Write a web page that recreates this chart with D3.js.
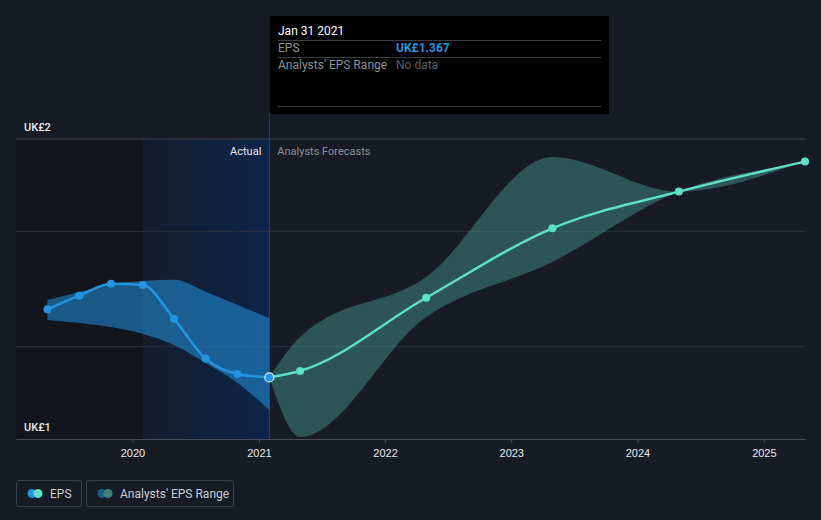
<!DOCTYPE html>
<html>
<head>
<meta charset="utf-8">
<script src="https://cdn.jsdelivr.net/npm/d3@7"></script>
<style>
  html, body { margin: 0; padding: 0; background: #161b26; }
  svg { display: block; font-family: Roboto, "Noto Sans", sans-serif; }
</style>
</head>
<body>
<div id="chart"></div>
<script>
// ---- data ----
const pastDates = ["2019-04-30", "2019-07-31", "2019-10-31", "2020-01-31", "2020-04-30", "2020-07-31", "2020-10-31", "2021-01-31"];
const pastEps   = [1.662, 1.721, 1.773, 1.767, 1.621, 1.448, 1.382, 1.367];
const pastLow   = [1.616, 1.603, 1.585, 1.555, 1.507, 1.429, 1.343, 1.226];
const pastHigh  = [1.702, 1.737, 1.772, 1.785, 1.790, 1.738, 1.681, 1.624];

const fcDates = ["2021-01-31", "2021-04-30", "2022-04-30", "2023-04-30", "2024-04-30", "2025-04-30"];
const fcEps   = [1.367, 1.395, 1.712, 2.013, 2.172, 2.302];
const fcLow   = [1.367, 1.109, 1.629, 1.867, 2.172, 2.296];
const fcHigh  = [1.367, 1.542, 1.802, 2.322, 2.172, 2.305];

const yTickValues = [1.5, 2.0];
const yLabels = ["UK£2", "UK£1"];
const xTickYears = [2020, 2021, 2022, 2023, 2024, 2025];

const tooltipDate = "Jan 31 2021";
const tooltipEps = "UK£1.367";

const W = 821, H = 520;
const margin = {top: 139, right: 16, bottom: 81, left: 16};
const parse = d3.timeParse("%Y-%m-%d");

const past = pastDates.map((d, i) => ({date: parse(d), eps: pastEps[i], low: pastLow[i], high: pastHigh[i]}));
const fc = fcDates.map((d, i) => ({date: parse(d), eps: fcEps[i], low: fcLow[i], high: fcHigh[i]}));

const x = d3.scaleTime()
    .domain([parse("2019-01-29"), parse("2025-04-30")])
    .range([margin.left, W - margin.right]);
const y = d3.scaleLinear()
    .domain([1.1, 2.4])
    .range([H - margin.bottom, margin.top]);

const svg = d3.select("#chart").append("svg")
    .attr("width", W)
    .attr("height", H);

const defs = svg.append("defs");
const grad = defs.append("linearGradient").attr("id", "lastYear")
    .attr("x1", "0").attr("x2", "1").attr("y1", "0").attr("y2", "0");
grad.append("stop").attr("offset", "0").attr("stop-color", "#00327a").attr("stop-opacity", 0.08);
grad.append("stop").attr("offset", "1").attr("stop-color", "#00327a").attr("stop-opacity", 0.42);

const today = parse("2021-01-31");
const yearAgo = parse("2020-01-31");
const plotTop = y.range()[1], plotBottom = y.range()[0];

// past background
svg.append("rect")
    .attr("x", margin.left).attr("y", plotTop)
    .attr("width", x(yearAgo) - margin.left).attr("height", plotBottom - plotTop)
    .attr("fill", "#111419").attr("opacity", 0.75);
svg.append("rect")
    .attr("x", x(yearAgo)).attr("y", plotTop)
    .attr("width", x(today) - x(yearAgo)).attr("height", plotBottom - plotTop)
    .attr("fill", "url(#lastYear)");

// gridlines
svg.append("g").selectAll("line")
    .data(yTickValues)
    .join("line")
    .attr("x1", margin.left).attr("x2", W - margin.right)
    .attr("y1", d => y(d)).attr("y2", d => y(d))
    .attr("stroke", "#2c313b").attr("stroke-width", 1);
svg.append("line")
    .attr("x1", margin.left).attr("x2", W - margin.right)
    .attr("y1", plotTop).attr("y2", plotTop)
    .attr("stroke", "#3b404b");

// vertical "today" line
svg.append("line")
    .attr("x1", x(today)).attr("x2", x(today))
    .attr("y1", 114).attr("y2", plotBottom)
    .attr("stroke", "#1a4a88").attr("stroke-width", 1);

// bands
const area = d3.area()
    .x(d => x(d.date)).y0(d => y(d.low)).y1(d => y(d.high))
    .curve(d3.curveMonotoneX);
svg.append("path").datum(past)
    .attr("d", area)
    .attr("fill", "#2394df").attr("opacity", 0.55);
svg.append("path").datum(fc)
    .attr("d", area)
    .attr("fill", "#4a9e92").attr("opacity", 0.45);

// lines
const line = d3.line().x(d => x(d.date)).y(d => y(d.eps)).curve(d3.curveMonotoneX);
svg.append("path").datum(fc)
    .attr("d", line)
    .attr("fill", "none").attr("stroke", "#5de0c6").attr("stroke-width", 2.5);
svg.append("path").datum(past)
    .attr("d", line)
    .attr("fill", "none").attr("stroke", "#2394df").attr("stroke-width", 2.5);

svg.append("g").selectAll("circle")
    .data(fc.slice(1))
    .join("circle")
    .attr("cx", d => x(d.date)).attr("cy", d => y(d.eps)).attr("r", 4)
    .attr("fill", "#5de0c6");
svg.append("g").selectAll("circle")
    .data(past.slice(0, -1))
    .join("circle")
    .attr("cx", d => x(d.date)).attr("cy", d => y(d.eps)).attr("r", 4)
    .attr("fill", "#2394df");
svg.append("circle")
    .attr("cx", x(today)).attr("cy", y(past[past.length - 1].eps)).attr("r", 4.5)
    .attr("fill", "#2394df").attr("stroke", "#e6eef8").attr("stroke-width", 1.2);

// x axis
const xAxis = d3.axisBottom(x)
    .tickValues(xTickYears.map(yr => new Date(yr, 0, 1)))
    .tickFormat(d3.timeFormat("%Y"))
    .tickSize(4).tickSizeOuter(0);
const xg = svg.append("g")
    .attr("transform", "translate(0," + plotBottom + ")")
    .call(xAxis);
xg.select(".domain").attr("stroke", "#474c57");
xg.selectAll(".tick line").attr("stroke", "#474c57");
xg.selectAll(".tick text")
    .attr("fill", "#e8eaed").attr("font-size", 11).attr("font-weight", 500)
    .attr("dy", "1em");

// y labels
svg.selectAll(".ylab")
    .data(yLabels)
    .join("text")
    .attr("class", "ylab")
    .attr("x", 24)
    .attr("y", (d, i) => i === 0 ? plotTop - 8 : plotBottom - 8)
    .attr("fill", "#e8eaed").attr("font-size", 11).attr("font-weight", 500)
    .text(d => d);

// region labels
svg.append("text")
    .attr("x", x(today) - 8).attr("y", 155)
    .attr("text-anchor", "end")
    .attr("fill", "#e8eaed").attr("font-size", 11)
    .text("Actual");
svg.append("text")
    .attr("x", x(today) + 8).attr("y", 155)
    .attr("fill", "#8b9099").attr("font-size", 11)
    .text("Analysts Forecasts");

// tooltip
const tip = svg.append("g").attr("transform", "translate(270,16)");
tip.append("rect").attr("width", 339).attr("height", 98).attr("fill", "#000");
[24, 41, 90].forEach(ly => {
    tip.append("line").attr("x1", 8).attr("x2", 331).attr("y1", ly + 0.5).attr("y2", ly + 0.5)
        .attr("stroke", "#3a3d42");
});
tip.append("text").attr("x", 8).attr("y", 19).attr("fill", "#fff").attr("font-size", 12).text(tooltipDate);
tip.append("text").attr("x", 8).attr("y", 36).attr("fill", "#8b9099").attr("font-size", 12).text("EPS");
tip.append("text").attr("x", 126).attr("y", 36).attr("fill", "#2394df").attr("font-size", 12)
    .attr("font-weight", 700).text(tooltipEps);
tip.append("text").attr("x", 8).attr("y", 53).attr("fill", "#8b9099").attr("font-size", 12).text("Analysts' EPS Range");
tip.append("text").attr("x", 126).attr("y", 53).attr("fill", "#5b5f66").attr("font-size", 12).text("No data");

// legend
const legendItems = [
    {label: "EPS", x: 16, w: 65, c1: "#2394df", c2: "#5de0c6"},
    {label: "Analysts' EPS Range", x: 86, w: 147, c1: "#1f5a8c", c2: "#3f827a"}
];
const lg = svg.append("g").selectAll("g")
    .data(legendItems)
    .join("g")
    .attr("transform", d => "translate(" + d.x + ",480)");
lg.append("rect")
    .attr("x", 0.5).attr("y", 0.5).attr("width", d => d.w).attr("height", 26).attr("rx", 2)
    .attr("fill", "none").attr("stroke", "#3a3f49");
lg.append("circle").attr("cx", 16).attr("cy", 13.5).attr("r", 4.5).attr("fill", d => d.c1);
lg.append("circle").attr("cx", 22).attr("cy", 13.5).attr("r", 4.5).attr("fill", d => d.c2);
lg.append("text").attr("x", 34).attr("y", 17.5)
    .attr("fill", "#c9ccd1").attr("font-size", 12)
    .text(d => d.label);
</script>
</body>
</html>
